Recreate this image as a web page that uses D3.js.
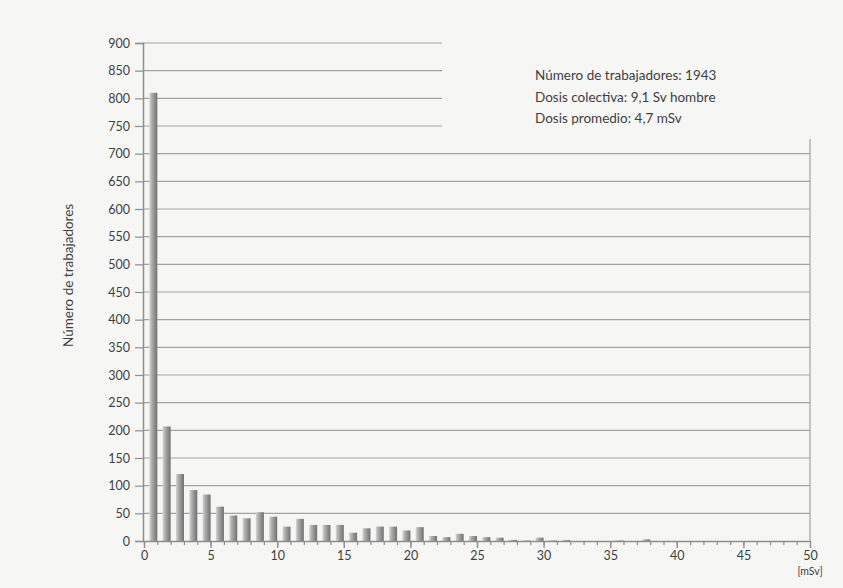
<!DOCTYPE html>
<html>
<head>
<meta charset="utf-8">
<script src="https://cdn.jsdelivr.net/npm/d3@7/dist/d3.min.js"></script>
<style>
  html, body { margin: 0; padding: 0; background: #f6f6f5; }
  svg { display: block; }
  text { font-family: "Lato", "Open Sans", sans-serif; fill: #3e3e3e; }
</style>
</head>
<body>
<div id="chart"></div>
<script>
// dose bins (mSv, lower edge of each 1 mSv interval)
var doseBins = [0, 1, 2, 3, 4, 5, 6, 7, 8, 9, 10, 11, 12, 13, 14, 15, 16, 17, 18, 19,
  20, 21, 22, 23, 24, 25, 26, 27, 28, 29, 30, 31, 32, 33, 34, 35, 36, 37, 38, 39,
  40, 41, 42, 43, 44, 45, 46, 47, 48, 49];

// number of workers per bin
var workers = [810, 207, 121, 92, 84, 62, 46, 41, 52, 44, 26, 40, 29, 29, 29, 15, 23, 26, 26, 19,
  25, 9, 7, 13, 9, 7, 6, 2, 1, 6, 1, 2, 0, 0, 0, 1, 0, 3, 0, 0,
  0, 0, 0, 0, 0, 0, 0, 0, 0, 0];

var xMajorTicks = [0, 5, 10, 15, 20, 25, 30, 35, 40, 45, 50];
var yTicks = [0, 50, 100, 150, 200, 250, 300, 350, 400, 450, 500, 550, 600, 650, 700, 750, 800, 850, 900];

var notes = [
  'Número de trabajadores: 1943',
  'Dosis colectiva: 9,1 Sv hombre',
  'Dosis promedio: 4,7 mSv'
];

var width = 843, height = 588;
var plotLeft = 144, plotRight = 810, plotTop = 43, plotBottom = 541;

var svg = d3.select('#chart')
  .append('svg')
  .attr('width', width)
  .attr('height', height);

var x = d3.scaleLinear().domain([0, 50]).range([plotLeft, plotRight]);
var y = d3.scaleLinear().domain([0, 900]).range([plotBottom, plotTop]);

// bar shading, light on the left and dark on the right
var grad = svg.append('defs').append('linearGradient')
  .attr('id', 'barShade')
  .attr('x1', '0%').attr('x2', '100%').attr('y1', '0%').attr('y2', '0%');
grad.append('stop').attr('offset', '0%').attr('stop-color', '#d6d6d6');
grad.append('stop').attr('offset', '35%').attr('stop-color', '#aaaaaa');
grad.append('stop').attr('offset', '100%').attr('stop-color', '#707070');

// horizontal grid lines
svg.append('g')
  .selectAll('line')
  .data(yTicks.filter(function (d) { return d > 0; }))
  .enter().append('line')
  .attr('x1', plotLeft - 1)
  .attr('x2', plotRight)
  .attr('y1', function (d) { return y(d); })
  .attr('y2', function (d) { return y(d); })
  .attr('stroke', '#a3a3a3')
  .attr('stroke-width', 1.2);

// right border of the plot
svg.append('line')
  .attr('x1', plotRight).attr('x2', plotRight)
  .attr('y1', plotTop).attr('y2', plotBottom)
  .attr('stroke', '#a3a3a3')
  .attr('stroke-width', 1.2);

// patch behind the notes hides the top grid lines
svg.append('rect')
  .attr('x', 442).attr('y', plotTop - 4)
  .attr('width', plotRight - 442 + 4).attr('height', 100)
  .attr('fill', '#f6f6f5');

// bars
var barStart = 0.4;
svg.append('g')
  .selectAll('rect')
  .data(doseBins)
  .enter().append('rect')
  .attr('x', function (d) { return x(d + barStart); })
  .attr('width', x(1) - x(barStart))
  .attr('y', function (d, i) { return y(workers[i]); })
  .attr('height', function (d, i) { return y(0) - y(workers[i]); })
  .attr('fill', 'url(#barShade)');

// y axis
var yAxis = svg.append('g')
  .attr('transform', 'translate(' + (plotLeft - 1) + ',0)')
  .call(d3.axisLeft(y).tickValues(yTicks).tickSize(8).tickPadding(5));
yAxis.select('.domain').attr('stroke', '#8e8e8e').attr('stroke-width', 1.5);
yAxis.selectAll('.tick line').attr('stroke', '#8e8e8e').attr('stroke-width', 1.2);
yAxis.selectAll('.tick text')
  .style('font-size', '12.5px')
  .style('font-family', '"Lato", sans-serif')
  .attr('fill', '#4a4a4a');

// x axis: minor ticks each mSv, major ticks with labels every 5
var xMinor = svg.append('g')
  .attr('transform', 'translate(0,' + plotBottom + ')')
  .call(d3.axisBottom(x).tickValues(doseBins).tickSize(4).tickFormat(''));
xMinor.select('.domain').remove();
xMinor.selectAll('.tick line').attr('stroke', '#8e8e8e').attr('stroke-width', 1.2);

var xAxis = svg.append('g')
  .attr('transform', 'translate(0,' + plotBottom + ')')
  .call(d3.axisBottom(x).tickValues(xMajorTicks).tickSize(7).tickPadding(3).tickSizeOuter(0));
xAxis.select('.domain').attr('stroke', '#8e8e8e').attr('stroke-width', 1.5);
xAxis.selectAll('.tick line').attr('stroke', '#8e8e8e').attr('stroke-width', 1.4);
xAxis.selectAll('.tick text')
  .style('font-size', '12.5px')
  .style('font-family', '"Lato", sans-serif')
  .attr('fill', '#4a4a4a');

// unit label under the last tick
svg.append('text')
  .attr('x', x(50))
  .attr('y', 575)
  .attr('text-anchor', 'middle')
  .style('font-size', '10.5px')
  .text('[mSv]');

// y axis title
svg.append('text')
  .attr('transform', 'translate(73,' + y(480) + ') rotate(-90)')
  .attr('text-anchor', 'middle')
  .style('font-size', '13.5px')
  .text('Número de trabajadores');

// notes
svg.append('g')
  .selectAll('text')
  .data(notes)
  .enter().append('text')
  .attr('x', 535)
  .attr('y', function (d, i) { return 80 + i * 21.5; })
  .style('font-size', '13.5px')
  .text(function (d) { return d; });
</script>
</body>
</html>
